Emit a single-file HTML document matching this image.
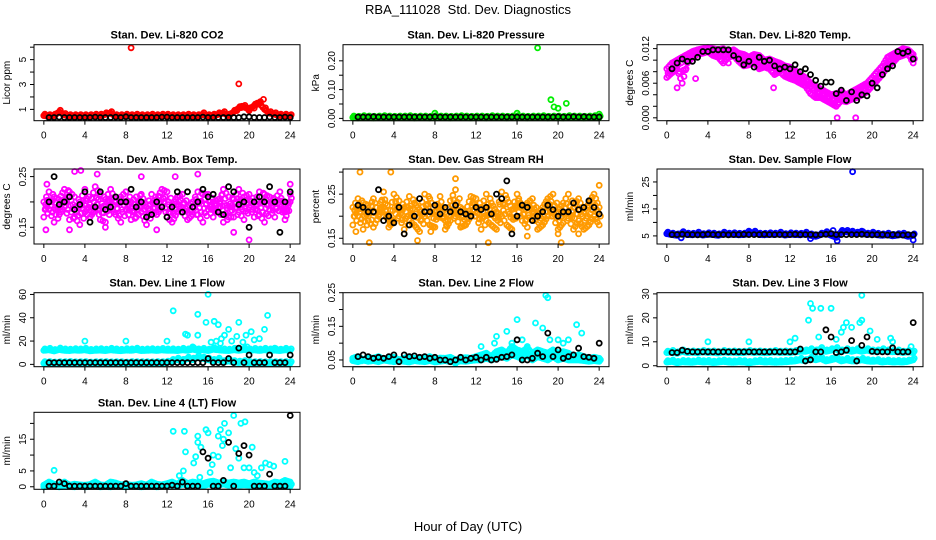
<!DOCTYPE html>
<html><head><meta charset="utf-8">
<style>
html,body{margin:0;padding:0;background:#fff;}
svg{display:block;font-family:"Liberation Sans",sans-serif;}
</style></head>
<body>
<svg id="chart" width="936" height="540" viewBox="0 0 936 540" xmlns="http://www.w3.org/2000/svg">
<text x="468" y="14" text-anchor="middle" font-size="13">RBA_111028&#160; Std. Dev. Diagnostics</text>
<text x="468" y="531" text-anchor="middle" font-size="13">Hour of Day (UTC)</text>
</svg>
<script>
// ---- data (hours step 0.5 for colored a/b arrays starting 0; black arrays start 0.5) ----
const xTicks = [0,4,8,12,16,20,24];
const co2A = [0.5,0.45,0.5,0.8,0.55,0.45,0.45,0.45,0.45,0.45,0.5,0.5,0.6,0.7,0.45,0.45,0.5,0.45,0.5,0.45,0.45,0.5,0.45,0.5,0.5,0.45,0.45,0.45,0.5,0.45,0.45,0.6,0.45,0.5,0.6,0.7,0.5,0.8,1.1,1.2,1.0,1.3,1.5,1.0,0.7,0.6,0.5,0.5,0.45];
const co2Out = [[8.5,5.95],[19,3.05],[21.4,1.8],[20.8,1.5],[18.8,0.9],[20,0.9],[19.3,1.25],[20.5,1.1]];
const co2K = [0.35,0.35,0.38,0.35,0.35,0.35,0.35,0.35,0.35,0.38,0.35,0.35,0.35,0.38,0.35,0.4,0.35,0.35,0.35,0.35,0.35,0.35,0.38,0.38,0.35,0.35,0.35,0.35,0.35,0.35,0.38,0.35,0.35,0.35,0.35,0.35,0.35,0.35,0.4,0.4,0.35,0.35,0.35,0.38,0.35,0.35,0.38,0.35];
const presA = [0.003,0.002,0.004,0.003,0.002,0.003,0.004,0.003,0.002,0.003,0.003,0.004,0.002,0.003,0.003,0.002,0.004,0.003,0.003,0.002,0.003,0.004,0.003,0.002,0.003,0.003,0.002,0.004,0.003,0.003,0.002,0.003,0.004,0.003,0.002,0.003,0.003,0.004,0.002,0.003,0.003,0.002,0.004,0.003,0.003,0.002,0.003,0.004,0.003];
const presOut = [[8,0.018],[16,0.018],[18,0.245],[19.3,0.065],[19.6,0.04],[20,0.035],[20.8,0.052],[24,0.015]];
const presK = [0.005,0.005,0.005,0.006,0.005,0.005,0.005,0.005,0.005,0.005,0.005,0.005,0.005,0.005,0.005,0.006,0.005,0.005,0.005,0.005,0.005,0.005,0.005,0.005,0.005,0.005,0.005,0.005,0.005,0.005,0.005,0.005,0.005,0.005,0.005,0.005,0.005,0.005,0.005,0.006,0.005,0.005,0.006,0.005,0.006,0.005,0.005,0.005];
const tempA = [0.0085,0.0095,0.010,0.0105,0.011,0.0115,0.0118,0.012,0.0122,0.012,0.0118,0.012,0.0115,0.0118,0.0112,0.011,0.0105,0.011,0.0108,0.010,0.0102,0.0098,0.0095,0.009,0.0088,0.0082,0.0075,0.007,0.006,0.0055,0.005,0.0045,0.004,0.0042,0.0045,0.004,0.0045,0.005,0.0055,0.006,0.007,0.008,0.009,0.0105,0.011,0.0115,0.012,0.0118,0.011];
const tempB = [0.007,0.0078,0.0085,0.006,0.0095,0.0105,0.011,0.0112,0.0115,0.0108,0.0105,0.0095,0.0105,0.0108,0.0098,0.009,0.0092,0.0095,0.0085,0.0088,0.0085,0.0075,0.008,0.0072,0.0068,0.0065,0.006,0.0055,0.0042,0.0035,0.0035,0.003,0.0025,0.002,0.003,0.0028,0.0032,0.0035,0.004,0.0045,0.0055,0.0065,0.0075,0.009,0.0095,0.0105,0.0108,0.0112,0.0095];
const tempOut = [[1,0.0052],[16.6,0],[18.4,0],[2.8,0.0068],[10.4,0.0052],[6,0.0095],[13,0.0062]];
const tempK = [0.0085,0.0095,0.0102,0.0098,0.0098,0.0105,0.0115,0.0115,0.0118,0.0118,0.0118,0.0118,0.0108,0.0102,0.0092,0.0098,0.0088,0.0105,0.0098,0.010,0.009,0.0085,0.0088,0.0085,0.0092,0.008,0.0085,0.0075,0.0065,0.0055,0.0062,0.0062,0.0042,0.0048,0.003,0.0045,0.003,0.004,0.0038,0.006,0.0052,0.0075,0.0085,0.009,0.0115,0.0112,0.0115,0.0102];
const ambA = [0.20,0.185,0.21,0.175,0.19,0.22,0.17,0.2,0.18,0.195,0.23,0.165,0.205,0.19,0.175,0.21,0.185,0.2,0.17,0.215,0.19,0.18,0.205,0.225,0.17,0.195,0.21,0.18,0.19,0.2,0.175,0.215,0.185,0.2,0.19,0.225,0.17,0.205,0.18,0.21,0.19,0.2,0.175,0.215,0.185,0.205,0.195,0.18,0.2];
const ambB = [0.17,0.22,0.16,0.205,0.225,0.165,0.21,0.155,0.225,0.17,0.185,0.215,0.16,0.225,0.2,0.16,0.22,0.165,0.21,0.18,0.155,0.215,0.175,0.19,0.22,0.16,0.18,0.215,0.165,0.175,0.22,0.16,0.215,0.17,0.205,0.16,0.21,0.17,0.225,0.165,0.215,0.17,0.22,0.16,0.21,0.17,0.22,0.165,0.215];
const ambOut = [[0.3,0.235],[0.2,0.145],[3,0.26],[3.6,0.262],[5.2,0.255],[2.5,0.145],[9.5,0.25],[12.8,0.25],[18.5,0.14],[20,0.125],[15,0.255],[24,0.235],[6,0.15],[11,0.145]];
const ambK = [0.2,0.25,0.195,0.2,0.21,0.185,0.195,0.22,0.16,0.19,0.22,0.185,0.19,0.21,0.2,0.2,0.225,0.19,0.2,0.17,0.175,0.2,0.19,0.17,0.19,0.22,0.18,0.22,0.19,0.2,0.225,0.21,0.215,0.18,0.175,0.23,0.22,0.195,0.2,0.15,0.2,0.21,0.2,0.23,0.2,0.14,0.2,0.22];
const rhA = [0.22,0.2,0.23,0.19,0.24,0.21,0.22,0.195,0.25,0.2,0.22,0.19,0.23,0.215,0.2,0.24,0.21,0.22,0.19,0.235,0.2,0.22,0.21,0.245,0.2,0.22,0.19,0.23,0.21,0.2,0.24,0.215,0.22,0.19,0.23,0.21,0.2,0.22,0.24,0.2,0.21,0.23,0.195,0.22,0.24,0.21,0.23,0.25,0.22];
const rhB = [0.18,0.24,0.17,0.225,0.175,0.2,0.255,0.175,0.19,0.235,0.17,0.245,0.18,0.165,0.25,0.18,0.175,0.245,0.17,0.19,0.26,0.175,0.18,0.2,0.24,0.17,0.25,0.18,0.17,0.255,0.18,0.17,0.25,0.22,0.175,0.24,0.17,0.18,0.2,0.25,0.17,0.185,0.25,0.17,0.19,0.17,0.18,0.2,0.18];
const rhOut = [[0.3,0.165],[0.7,0.3],[3.7,0.3],[1.6,0.14],[5,0.16],[7.6,0.165],[10,0.285],[13.2,0.14],[17,0.155],[20,0.16],[20.3,0.14],[24,0.27],[6.3,0.145],[22,0.16]];
const rhK = [0.225,0.22,0.21,0.21,0.26,0.19,0.2,0.185,0.22,0.16,0.18,0.2,0.24,0.21,0.21,0.225,0.205,0.22,0.21,0.225,0.21,0.205,0.2,0.22,0.215,0.22,0.205,0.25,0.24,0.28,0.16,0.2,0.225,0.22,0.19,0.2,0.21,0.225,0.215,0.2,0.21,0.21,0.23,0.215,0.22,0.235,0.22,0.205];
const flowA = [5.8,5.5,5.2,6.0,5.5,5.4,5.8,5.3,5.6,5.5,5.2,5.8,5.5,5.6,5.4,5.5,5.8,6.2,5.5,5.4,5.6,5.5,5.8,5.3,5.6,5.5,5.4,5.8,5.2,4.8,5.5,6.0,5.2,4.5,6.5,6.5,6.2,5.8,6.0,5.5,5.8,5.4,5.2,5.5,5.0,5.3,5.5,4.8,5.2];
const flowOut = [[18.1,28.8],[16.6,3.2],[16.2,7],[24,3.5],[19,6.8],[14,4.0],[8,6.8],[1.4,4.3]];
const flowK = [5.5,5.5,5.6,5.5,5.5,5.4,5.5,5.6,5.5,5.5,5.5,5.4,5.5,5.5,5.6,5.5,5.5,5.5,5.6,5.5,5.5,5.5,5.5,5.5,5.6,5.5,5.5,5.5,5.4,5.5,5.6,5.8,5.5,5.5,5.5,5.5,5.5,5.6,5.5,5.4,5.5,5.5,5.3,5.5,5.4,5.3,5.5,5.4];
const l1A = [12,12.5,11.5,12.8,12,11.8,12.3,12,12.5,11.6,12,12.2,11.8,12.5,12,11.7,12.2,12,12.6,11.8,12,12.3,11.9,12.4,12,12.1,11.8,12.5,12,13,12,12.5,11.8,13,12.4,12,11.8,12.5,12,12.8,12,12.4,11.9,12.5,12,12.2,11.8,12.5,12];
const l1B = [1,1.2,0.8,1.1,1,1.3,0.9,1,1.2,0.8,1.1,1,1.2,0.9,1,1.1,0.8,1.2,1,1,1.1,0.9,1.2,1,1.5,3,4,3,5,4,6,5,4,3,4,2,3,2,1.5,2,1.2,1,1.2,0.9,1,1.1,1,1.2,1];
const l1Out = [[4,20],[8,20],[12,20],[12.6,46],[15,43],[16,60],[15.8,36],[16.6,37],[17,34],[14,25],[15,25],[16.3,19],[17.3,22],[17.6,25],[18,30],[18.3,20],[18.8,24],[19,36],[19.4,19],[19.7,25],[20.2,28],[20.5,21],[21,22],[21.5,30],[21.8,42],[14.5,15],[17.2,18],[22.5,14],[16.8,20],[19.8,15],[13.8,26]];
const l1K = [1.5,1.5,1.5,1.5,1.5,1.5,1.5,1.5,1.5,1.5,1.5,1.5,1.5,1.5,1.5,1.5,1.5,1.5,1.5,1.5,1.5,1.5,1.5,1.5,1.5,1.5,1.5,1.5,1.5,1.5,1.5,5,1.5,1.5,1.5,5,1.5,14,1.5,8,1.5,1.5,1.5,8,1.5,1.5,1.5,8];
const l2A = [0.055,0.06,0.05,0.058,0.055,0.06,0.052,0.056,0.058,0.05,0.055,0.06,0.054,0.057,0.055,0.06,0.05,0.056,0.055,0.058,0.05,0.055,0.057,0.055,0.06,0.065,0.07,0.06,0.075,0.08,0.07,0.09,0.08,0.075,0.085,0.07,0.08,0.075,0.07,0.08,0.07,0.075,0.07,0.06,0.065,0.06,0.055,0.058,0.055];
const l2B = [0.048,0.045,0.05,0.046,0.048,0.045,0.05,0.047,0.045,0.048,0.046,0.044,0.048,0.046,0.045,0.048,0.044,0.046,0.048,0.045,0.044,0.047,0.046,0.048,0.05,0.05,0.055,0.05,0.055,0.06,0.055,0.065,0.06,0.055,0.065,0.05,0.06,0.055,0.05,0.06,0.05,0.055,0.05,0.05,0.05,0.048,0.046,0.048,0.046];
const l2Out = [[18.8,0.242],[19,0.235],[16,0.17],[17.8,0.16],[21.8,0.155],[15,0.135],[22.3,0.13],[18.5,0.145],[14,0.12],[12.5,0.09],[16.5,0.11],[20,0.11],[21,0.11],[19.2,0.11],[15.5,0.1],[13.8,0.1],[17,0.09],[20.5,0.1],[10,0.04]];
const l2K = [0.06,0.065,0.06,0.055,0.058,0.055,0.06,0.065,0.045,0.065,0.06,0.062,0.058,0.06,0.055,0.058,0.05,0.05,0.045,0.05,0.058,0.05,0.055,0.058,0.05,0.058,0.05,0.052,0.058,0.06,0.065,0.11,0.05,0.05,0.055,0.07,0.06,0.13,0.06,0.08,0.055,0.06,0.065,0.085,0.06,0.058,0.055,0.1];
const l3A = [5.5,5.8,5.2,6,5.5,5.6,5.4,5.8,5.5,5.6,5.3,5.8,5.5,5.6,5.4,5.5,5.8,5.5,5.6,5.4,5.5,5.8,5.5,5.6,5.5,5.8,6,6,6.5,6,7,6,6.5,7,6,6.5,6,6.5,6,6.5,6,6,6.5,6,5.8,6,5.5,5.8,5.5];
const l3B = [1.5,1.8,1.2,1.6,1.5,1.4,1.8,1.5,1.6,1.3,1.5,1.8,1.5,1.4,1.6,1.5,1.2,1.5,1.8,1.5,1.6,1.4,1.5,1.6,1.8,2,2.5,2,3,2.5,3,2,2.5,3,2,2.5,2,2,2.5,2,1.8,2,1.5,1.8,1.5,1.6,1.5,1.8,2.5];
const l3Out = [[4,10],[8,10],[12,10],[12.5,11.5],[13.8,19],[14,26],[14.2,24],[15,24],[16,24],[19,29.4],[19,19],[17,14],[17.5,18],[18,16],[18.8,18],[19.8,14.5],[20.5,11],[21.8,11.5],[22,10],[23.8,8],[16.5,11],[17.2,16],[14.8,12]];
const l3K = [5.5,5.5,6.5,6,5.8,5.8,5.8,5.8,5.8,5.8,5.8,5.8,5.8,5.8,5.8,5.8,5.8,5.8,5.8,5.8,5.8,5.8,5.8,5.8,5.8,7,2,2.5,5.8,5.8,15,12,5.5,5.8,6.5,10.5,2,8.5,12,6,5.8,5.8,5.8,7.5,5.8,5.8,5.8,18];
const l4A = [0.5,1.5,0.8,0.6,1.5,0.5,0.8,0.6,0.5,0.7,1.5,0.6,0.5,1.5,1.2,0.6,0.8,0.5,0.6,1,0.5,1.5,0.8,0.6,1,1.5,0.8,2,1,1.5,1.2,1,1.5,1.8,1.2,1.5,1.2,1.5,1.2,1.5,1,1.5,1.2,1,0.8,1.5,1.2,2,1.5];
const l4B = [0,0.3,0.2,0,0.2,0.1,0,0.2,0,0.1,0.2,0,0.1,0,0.2,0.1,0,0.2,0.1,0,0.1,0.2,0,0.1,0.3,0.5,0.3,0.8,0.5,0.8,0.5,0.3,0.8,0.5,0.6,0.8,0.5,0.8,0.5,0.6,0.5,0.3,0.5,0.3,0.2,0.5,0.3,0.2,0.1];
const l4Out = [[12.6,17.5],[13.7,17.5],[13.8,11],[13.6,5],[14.6,7.5],[15,14],[15,16],[15.3,12.5],[15.2,3],[15.8,18],[16,17],[16.2,4.5],[16.4,7],[16.5,10],[17,16],[17.2,18],[17.4,13],[17.5,15],[17.6,20],[18,17],[18.2,6],[18.5,22.5],[18.7,12],[19,9],[19.2,20],[19.6,20.5],[19.5,6],[20,6],[20.3,12.5],[20.5,4.5],[20.8,3.5],[21.2,6],[21.6,7.5],[22,7],[22.4,6.5],[23.5,8],[1,5.2],[14.8,9.5],[17,9.5],[13.2,3.5]];
const l4K = [0.2,0.2,1.5,1,0.2,0.2,0.2,0.2,0.2,0.2,0.2,0.2,0.2,0.2,0.2,1,0.2,0.2,0.2,0.2,0.2,0.2,0.2,0.2,0.5,0.2,1.5,0.2,0.2,0.2,11,9,0.2,0.2,2,14,0.2,10.5,13,10,0.2,0.2,0.2,4,0.2,0.2,0.2,22.5];

const panels = [
 {name:"co2",title:"Stan. Dev. Li-820 CO2",ylab:"Licor ppm",col:0,row:0,ylim:[0.09,6.2],ticks:[1,2,3,4,5,6],labels:[1,3,5],color:"#ff0000",A:co2A,B:null,out:co2Out,K:co2K,fill:false},
 {name:"pressure",title:"Stan. Dev. Li-820 Pressure",ylab:"kPa",col:1,row:0,ylim:[-0.008,0.256],ticks:[0,0.05,0.1,0.15,0.2],labels:[0,0.1,0.2],fmt:2,color:"#00ee00",A:presA,B:null,out:presOut,K:presK,fill:false},
 {name:"temp",title:"Stan. Dev. Li-820 Temp.",ylab:"degrees C",col:2,row:0,ylim:[-0.0005,0.01268],ticks:[0,0.002,0.004,0.006,0.008,0.01,0.012],labels:[0,0.006,0.012],fmt:3,color:"#ff00ff",A:tempA,B:tempB,out:tempOut,K:tempK,fill:true},
 {name:"amb-box",title:"Stan. Dev. Amb. Box Temp.",ylab:"degrees C",col:0,row:1,ylim:[0.117,0.265],ticks:[0.15,0.2,0.25],labels:[0.15,0.25],fmt:2,color:"#ff00ff",A:ambA,B:ambB,out:ambOut,K:ambK,fill:true},
 {name:"rh",title:"Stan. Dev. Gas Stream RH",ylab:"percent",col:1,row:1,ylim:[0.137,0.307],ticks:[0.15,0.2,0.25,0.3],labels:[0.15,0.25],fmt:2,color:"#ff9a00",A:rhA,B:rhB,out:rhOut,K:rhK,fill:true},
 {name:"sample-flow",title:"Stan. Dev. Sample Flow",ylab:"ml/min",col:2,row:1,ylim:[2.0,29.8],ticks:[5,10,15,20,25],labels:[5,15,25],color:"#0000ff",A:flowA,B:null,out:flowOut,K:flowK,fill:false},
 {name:"line1",title:"Stan. Dev. Line 1 Flow",ylab:"ml/min",col:0,row:2,ylim:[-2,61.5],ticks:[0,20,40,60],labels:[0,20,40,60],color:"#00ffff",A:l1A,B:l1B,out:l1Out,K:l1K,fill:false},
 {name:"line2",title:"Stan. Dev. Line 2 Flow",ylab:"ml/min",col:1,row:2,ylim:[0.03,0.25],ticks:[0.05,0.1,0.15,0.2,0.25],labels:[0.05,0.15,0.25],fmt:2,color:"#00ffff",A:l2A,B:l2B,out:l2Out,K:l2K,fill:true},
 {name:"line3",title:"Stan. Dev. Line 3 Flow",ylab:"ml/min",col:2,row:2,ylim:[-0.4,30.5],ticks:[0,10,20,30],labels:[0,10,20,30],color:"#00ffff",A:l3A,B:l3B,out:l3Out,K:l3K,fill:false},
 {name:"line4",title:"Stan. Dev. Line 4 (LT) Flow",ylab:"ml/min",col:0,row:3,ylim:[-0.8,23.5],ticks:[0,5,10,15,20],labels:[0,5,15],color:"#00ffff",A:l4A,B:l4B,out:l4Out,K:l4K,fill:true}
];

const NS="http://www.w3.org/2000/svg";
const svg=document.getElementById("chart");
const colLeft=[34,343,657], W=266;
const rowTop=[44.7,169,292.7,412.3], rowH=[76,75,74,77];
function mk(tag,parent){const e=document.createElementNS(NS,tag);parent.appendChild(e);return e;}

panels.forEach(p=>{
  const L=colLeft[p.col], T=rowTop[p.row], H=rowH[p.row], B=T+H, R=L+W;
  const xs=h=>L+W*0.037+(h/24)*(W*(1-0.074));
  const ys=v=>B-(v-p.ylim[0])/(p.ylim[1]-p.ylim[0])*H;
  const g=mk("g",svg);
  
  
  const t=mk("text",g);
  
  
  t.setAttribute("x",(L+R)/2);t.setAttribute("y",T-6);t.setAttribute("text-anchor","middle");
  t.setAttribute("font-size","11");t.setAttribute("font-weight","bold");t.textContent=p.title;
  const pts=mk("g",g);
  
  
  function dot(h,v,c,r){
    const y=ys(v); if(y<T-3||y>B+3) return;
    const ci=mk("circle",pts);
    
    
    ci.setAttribute("cx",xs(h).toFixed(1));ci.setAttribute("cy",y.toFixed(1));
    ci.setAttribute("r",r||"2.5");ci.setAttribute("fill","none");ci.setAttribute("stroke",c);ci.setAttribute("stroke-width","1.8");
  }
  const arrs=[p.A]; if(p.B) arrs.push(p.B);
  arrs.forEach(a=>a.forEach((v,i)=>{
    dot(i*0.5,v,p.color);
    if(i<a.length-1){dot(i*0.25*2+0.17,(2*v+a[i+1])/3,p.color);dot(i*0.5+0.33,(v+2*a[i+1])/3,p.color);}
    if(!p.fill){dot(i*0.5+0.1,v+(p.ylim[1]-p.ylim[0])*0.02,p.color);}
  }));
  if(p.fill&&p.B){
    p.A.forEach((v,i)=>{
      const b=p.B[i];
      dot(i*0.5+0.12,(v+b)/2,p.color);
      if(i<p.A.length-1){dot(i*0.5+0.25,(v+p.B[i+1])/2,p.color);dot(i*0.5+0.38,(b+p.A[i+1])/2,p.color);}
    });
  }
  p.out.forEach(o=>dot(o[0],o[1],p.color));
  p.K.forEach((v,i)=>dot(0.5+i*0.5,v,"#000"));
  const box=mk("rect",g);
  
  
  box.setAttribute("x",L);box.setAttribute("y",T);box.setAttribute("width",W);box.setAttribute("height",H);
  box.setAttribute("fill","none");box.setAttribute("stroke","#000");box.setAttribute("stroke-width","1");
  const xa=mk("g",g);
  
  
  const xl=mk("line",xa);
  xl.setAttribute("x1",xs(0));xl.setAttribute("x2",xs(24));xl.setAttribute("y1",B);xl.setAttribute("y2",B);xl.setAttribute("stroke","#000");
  xTicks.forEach(h=>{
    const tk=mk("line",xa);
    tk.setAttribute("x1",xs(h));tk.setAttribute("x2",xs(h));tk.setAttribute("y1",B);tk.setAttribute("y2",B+4);tk.setAttribute("stroke","#000");
    const tl=mk("text",xa);
    
    
    tl.setAttribute("x",xs(h));tl.setAttribute("y",B+18);tl.setAttribute("text-anchor","middle");tl.setAttribute("font-size","10");
    tl.textContent=h;
  });
  const ya=mk("g",g);
  
  
  const y0=ys(p.ticks[0]), y1=ys(p.ticks[p.ticks.length-1]);
  const yl=mk("line",ya);
  yl.setAttribute("x1",L);yl.setAttribute("x2",L);yl.setAttribute("y1",y0);yl.setAttribute("y2",y1);yl.setAttribute("stroke","#000");
  p.ticks.forEach(v=>{
    const tk=mk("line",ya);
    tk.setAttribute("x1",L-4);tk.setAttribute("x2",L);tk.setAttribute("y1",ys(v));tk.setAttribute("y2",ys(v));tk.setAttribute("stroke","#000");
  });
  p.labels.forEach(v=>{
    const tl=mk("text",ya);
    
    
    const x=L-8, y=ys(v);
    tl.setAttribute("x",x);tl.setAttribute("y",y);tl.setAttribute("text-anchor","middle");tl.setAttribute("font-size","10");
    tl.setAttribute("transform","rotate(-90 "+x+" "+y+")");
    tl.textContent=p.fmt?v.toFixed(p.fmt):v;
  });
  const yt=mk("text",ya);
  
  
  const tx=L-24, ty=(T+B)/2;
  yt.setAttribute("x",tx);yt.setAttribute("y",ty);yt.setAttribute("text-anchor","middle");yt.setAttribute("font-size","10");
  yt.setAttribute("transform","rotate(-90 "+tx+" "+ty+")");
  yt.textContent=p.ylab;
});
</script>
</body></html>
